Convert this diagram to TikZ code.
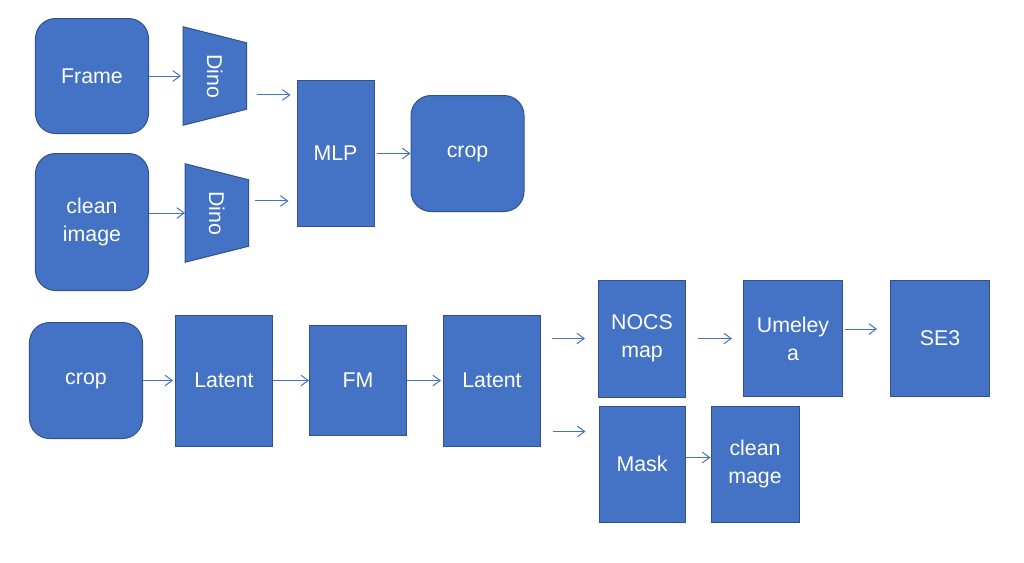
\documentclass[tikz,border=0pt]{standalone}
\usepackage{fontspec}
\setmainfont{Liberation Sans}
\usepackage{graphicx}
\usepackage{tikz}
\usetikzlibrary{arrows.meta,positioning,backgrounds}
\definecolor{boxblue}{HTML}{4472C4}
\definecolor{edgeblue}{HTML}{2F528F}
\tikzset{
  box/.style={rectangle, draw=edgeblue, fill=boxblue, line width=0.75pt,
              text=white, font=\fontsize{16}{21}\selectfont,
              inner sep=0pt, align=center},
  rbox/.style={box, rounded corners=15pt},
  dinolbl/.style={rectangle, minimum width=47.25pt, minimum height=73.5pt, inner sep=0pt,
                  text=white, font=\fontsize{16}{21}\selectfont},
  dinoshape/.style={draw=edgeblue, fill=boxblue, line width=0.75pt},
  arr/.style={-{Straight Barb[length=5.5pt,width=8pt]}, draw=boxblue, line width=0.75pt},
}

\begin{document}
\begin{tikzpicture}
        % top row
        \node[rbox, minimum width=84.75pt, minimum height=86.25pt] (frame) {Frame};
        \node[rbox, minimum width=84.75pt, minimum height=102.75pt, below=14.25pt of frame] (cleanimg)
              {clean\\image};
        \node[dinolbl, right=25.5pt of frame] (dinoa) {\rotatebox{-90}{Dino}};
        \node[dinolbl, anchor=west] (dinob) at ([shift={(27pt,6.75pt)}]cleanimg.east)
              {\rotatebox{-90}{Dino}};
        \node[box, minimum width=57.75pt, minimum height=109.5pt,
              below right=3pt and 37.5pt of dinoa.east] (mlp) {MLP};
        \node[rbox, minimum width=84.75pt, minimum height=87pt, right=27pt of mlp] (cropa) {crop};

        \begin{scope}[on background layer]
          \foreach \d in {dinoa,dinob}
            \draw[dinoshape] (\d.north west) -- ([yshift=-12pt]\d.north east)
                  -- ([yshift=12pt]\d.south east) -- (\d.south west) -- cycle;
        \end{scope}

        % bottom row
        \node[rbox, minimum width=84.75pt, minimum height=87pt,
              below=23.25pt of cleanimg, xshift=-4.5pt] (cropb) {crop};
        \node[box, minimum width=72.75pt, minimum height=98.25pt, right=24pt of cropb] (latenta) {Latent};
        \node[box, minimum width=72.75pt, minimum height=82.5pt, right=27pt of latenta] (fm) {FM};
        \node[box, minimum width=72.75pt, minimum height=98.25pt, right=27pt of fm] (latentb) {Latent};
        \node[box, minimum width=65.25pt, minimum height=87.75pt,
              right=42.75pt of latentb, yshift=31.5pt] (nocs) {NOCS\\map};
        \node[box, minimum width=64.5pt, minimum height=87pt, below=6pt of nocs] (mask) {Mask};
        \node[box, minimum width=74.25pt, minimum height=87pt, right=42.75pt of nocs] (umeleya)
              {Umeley\\a};
        \node[box, minimum width=74.25pt, minimum height=87pt, right=35.25pt of umeleya] (se3) {SE3};
        \node[box, minimum width=66pt, minimum height=87pt, right=18.75pt of mask] (cleanmage)
              {clean\\mage};

        % arrows
        \draw[arr, shorten >=1.5pt] (frame.east) -- (dinoa.west);
        \draw[arr] (cleanimg.east |- dinob.west) -- (dinob.west);
        \draw[arr] ([shift={(-30pt,43.9pt)}]mlp.west) -- ([shift={(-4.5pt,43.9pt)}]mlp.west);
        \draw[arr] ([shift={(-31.5pt,-35.6pt)}]mlp.west) -- ([shift={(-6pt,-35.6pt)}]mlp.west);
        \draw[arr] ([xshift=1.5pt]mlp.east) -- (mlp.east -| cropa.west);
        \draw[arr, shorten >=1.5pt] (cropb.east) -- (cropb.east -| latenta.west);
        \draw[arr] (latenta.east) -- (latenta.east -| fm.west);
        \draw[arr, shorten >=1.5pt] (fm.east |- latentb.west) -- (latentb.west);
        \draw[arr] ([xshift=-34.5pt]nocs.west) -- ([xshift=-9.75pt]nocs.west);
        \draw[arr] ([shift={(-34.5pt,24.4pt)}]mask.west) -- ([shift={(-9.75pt,24.4pt)}]mask.west);
        \draw[arr] ([xshift=-33.75pt]umeleya.west) -- ([xshift=-8.25pt]umeleya.west);
        \draw[arr] ([shift={(1.5pt,7.1pt)}]umeleya.east) -- ([shift={(-9.75pt,7.1pt)}]se3.west);
        \draw[arr] ([yshift=4.9pt]mask.east) -- ([yshift=4.9pt]cleanmage.west);

        \useasboundingbox ([shift={(-26.25pt,13.5pt)}]frame.north west) rectangle ++(768pt,-421.5pt);
      \end{tikzpicture}
\end{document}
